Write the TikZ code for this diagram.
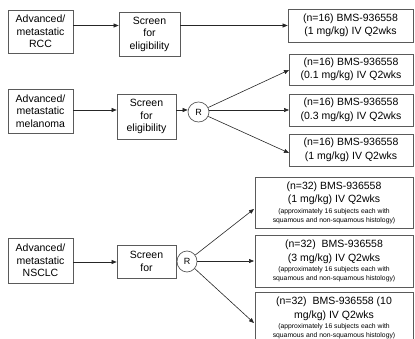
\documentclass[tikz,border=0pt]{standalone}
\usepackage{fontspec}
\setmainfont{Liberation Sans}
\usetikzlibrary{arrows.meta,shapes.geometric}
\definecolor{boxgray}{HTML}{5A5A5A}
\tikzset{
  x=1pt,y=-1pt,
  box/.style={draw=boxgray,line width=0.7pt,rectangle,inner sep=1pt,align=center,
    font=\fontsize{10.5}{12.5}\selectfont,text=black},
  resbox/.style={box,font=\fontsize{10.5}{13.5}\selectfont},
  rnode/.style={draw=boxgray,line width=0.7pt,ellipse,inner sep=0pt,font=\fontsize{9}{10}\selectfont},
  arr/.style={draw=black!85,line width=0.6pt,-{Triangle[length=5pt,width=4pt]}},
  small/.style={}
}
\newcommand{\smalltxt}[1]{{\fontsize{6.8}{8}\selectfont #1}}
\begin{document}
\begin{tikzpicture}
\useasboundingbox (0,0) rectangle (415,339);
\clip (0,0) rectangle (415,339);
% RCC row
\node[box,minimum width=65,minimum height=43] (rcc) at (40.5,31.5) {Advanced/\\metastatic\\RCC};
\node[box,minimum width=61,minimum height=44] (scr1) at (149.5,34) {Screen\\for\\eligibility};
\node[resbox,minimum width=125,minimum height=33] (res1) at (350.5,25.5) {(n=16) BMS-936558\\(1 mg/kg) IV Q2wks};
\draw[arr] (rcc.east |- res1.west) -- (scr1.west |- res1.west);
\draw[arr] (scr1.east |- res1.west) -- (res1.west);
% Melanoma row
\node[box,minimum width=65,minimum height=44] (mel) at (40.5,111) {Advanced/\\metastatic\\melanoma};
\node[box,minimum width=59,minimum height=45] (scr2) at (146.5,116.5) {Screen\\for\\eligibility};
\node[rnode,minimum width=21,minimum height=20] (R2) at (198.5,112) {R};
\node[resbox,minimum width=124,minimum height=31] (res2) at (351,69.5) {(n=16) BMS-936558\\(0.1 mg/kg) IV Q2wks};
\node[resbox,minimum width=124,minimum height=32] (res3) at (351,110) {(n=16) BMS-936558\\(0.3 mg/kg) IV Q2wks};
\node[resbox,minimum width=124,minimum height=32] (res4) at (351,150) {(n=16) BMS-936558\\(1 mg/kg) IV Q2wks};
\coordinate (e2) at (289,70);
\coordinate (e3) at (289,110);
\coordinate (e4) at (289,153);
\draw[arr] (mel.east |- 0,110) -- (scr2.west |- 0,110);
\draw[arr] (scr2.east |- 0,110) -- (R2.west |- 0,110);
\draw[arr] (R2) -- (e2);
\draw[arr] (R2.east |- e3) -- (e3);
\draw[arr] (R2) -- (e4);
% NSCLC row
\node[box,minimum width=65,minimum height=45] (nsc) at (40.5,260.5) {Advanced/\\metastatic\\NSCLC};
\node[box,minimum width=59,minimum height=33] (scr3) at (146.5,261.5) {Screen\\for};
\node[rnode,minimum width=20,minimum height=21] (R3) at (187,261.5) {R};
\node[resbox,minimum width=158,minimum height=51] (res5) at (334,202.5) {(n=32) BMS-936558\\(1 mg/kg) IV Q2wks\\[-3pt]\smalltxt{(approximately 16 subjects each with}\\[-4.5pt]\smalltxt{squamous and non-squamous histology)}};
\node[resbox,minimum width=158,minimum height=52] (res6) at (334,261) {(n=32)~ BMS-936558\\(3 mg/kg) IV Q2wks\\[-3pt]\smalltxt{(approximately 16 subjects each with}\\[-4.5pt]\smalltxt{squamous and non-squamous histology)}};
\node[resbox,minimum width=158,minimum height=52,anchor=north] (res7) at (334,292) {(n=32)~ BMS-936558 (10\\mg/kg) IV Q2wks\\[-3pt]\smalltxt{(approximately 16 subjects each with}\\[-4.5pt]\smalltxt{squamous and non-squamous histology)}};
\coordinate (e5) at (254,209);
\coordinate (e6) at (254,261);
\coordinate (e7) at (254,323);
\draw[arr] (nsc.east |- 0,262) -- (scr3.west |- 0,262);
\draw[arr] (R3) -- (e5);
\draw[arr] (R3.east |- e6) -- (e6);
\draw[arr] (R3) -- (e7);
\end{tikzpicture}
\end{document}
